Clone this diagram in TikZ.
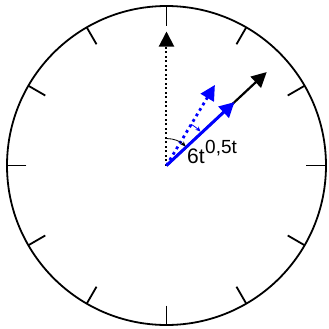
\documentclass[tikz,border=0pt]{standalone}
\usepackage{fontspec}
\setmainfont{Liberation Sans}
\usetikzlibrary{arrows.meta}
\definecolor{hblue}{RGB}{0,0,255}
\tikzset{
  face/.style={line width=1.8bp},
  tick/.style={line width=1.8bp},
  bigtip/.style={-{Triangle[length=15bp,width=15bp]}},
  blkdots/.style={line width=2bp,dash pattern=on 2bp off 2.5bp},
  bludots/.style={line width=2.8bp,dash pattern=on 2.8bp off 3.6bp,hblue},
  lbl/.style={inner sep=0pt,anchor=base west}
}
\begin{document}
\begin{tikzpicture}[x=1bp,y=1bp]
\useasboundingbox (-166.5,-163.5) rectangle (162.5,165.5);
\coordinate (O) at (0,0);
\draw[face] (O) circle[radius=159.5];
\foreach \a in {0,30,...,330} \draw[tick] (\a:140) -- (\a:159.5);
% tips
\coordinate (t12) at (90:134);
\coordinate (tm) at (43:137);
\coordinate (th) at (43:93);
\coordinate (td) at (59:94);
% hands
\draw[blkdots,bigtip] (O) -- (t12);
\draw[line width=2.2bp,bigtip] (O) -- (tm);
\draw[bludots,bigtip] (O) -- (td);
\draw[line width=3bp,hblue,bigtip] (O) -- (th);
% angle arcs
\draw[line width=0.8bp,-{Stealth[length=5bp,width=4.5bp]}] (90:27) arc[start angle=90,end angle=45,radius=27];
\draw[line width=0.8bp,hblue,-{Stealth[length=5bp,width=4.5bp]}] (59:48) arc[start angle=59,end angle=45,radius=48];
% labels
\node[lbl,font=\fontsize{21bp}{23bp}\selectfont] (l6) at (20.5,2.5) {6t};
\node[lbl,font=\fontsize{19bp}{21bp}\selectfont] (l05) at (38.5,12.5) {0,5t};
\end{tikzpicture}
\end{document}
